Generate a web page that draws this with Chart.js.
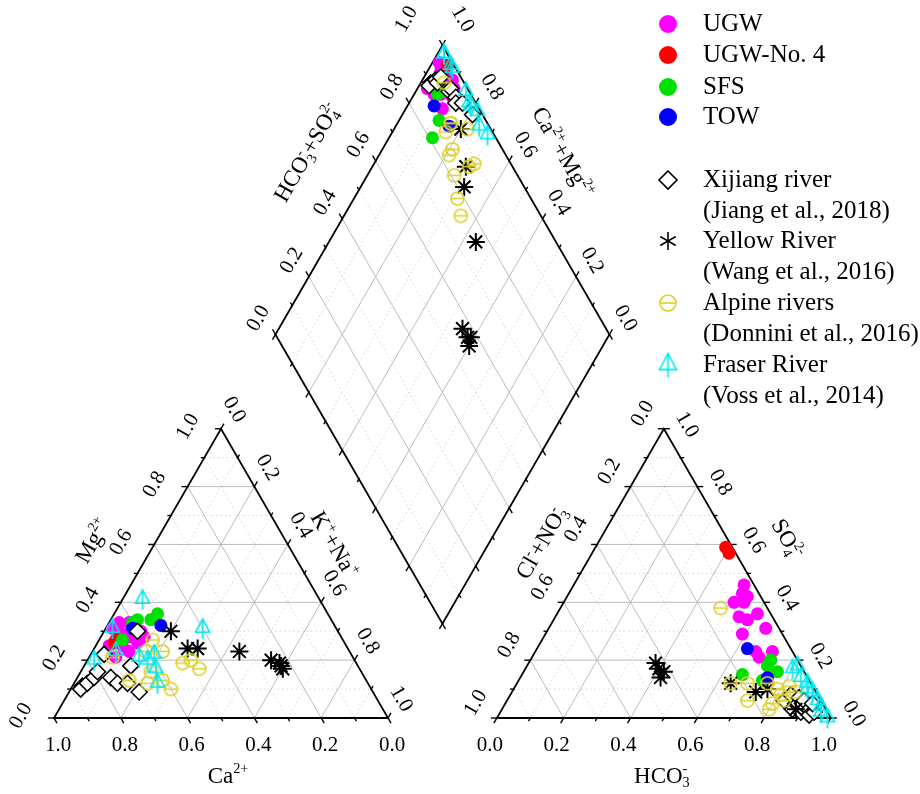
<!DOCTYPE html>
<html>
<head>
<meta charset="utf-8">
<script src="https://cdn.jsdelivr.net/npm/chart.js@4.4.1/dist/chart.umd.min.js"></script>
<style>
html,body{margin:0;padding:0;background:#fff;}
canvas{display:block;}
</style>
</head>
<body>
<canvas id="piper" width="920" height="794"></canvas>
<script>
// Cation fractions per sample: [Ca, Mg, Na+K]
// Anion fractions per sample:  [HCO3, SO4, Cl+NO3]  (same sample order)
const ugwCations = [[0.64,0.33,0.03],[0.61,0.33,0.06],[0.59,0.30,0.11],[0.65,0.29,0.06],[0.67,0.25,0.08],[0.71,0.21,0.08],[0.71,0.25,0.04],[0.62,0.26,0.12],[0.66,0.23,0.11],[0.59,0.28,0.13],[0.67,0.31,0.02],[0.63,0.28,0.09],[0.67,0.27,0.06]];
const ugwAnions  = [[0.59,0.29,0.12],[0.55,0.35,0.10],[0.66,0.23,0.11],[0.68,0.21,0.11],[0.51,0.40,0.09],[0.58,0.34,0.08],[0.52,0.43,0.05],[0.54,0.40,0.06],[0.60,0.36,0.04],[0.71,0.23,0.06],[0.54,0.42,0.04],[0.51,0.46,0.03],[0.65,0.31,0.04]];

const ugw4Cations = [[0.69,0.26,0.05],[0.68,0.27,0.05]];
const ugw4Anions  = [[0.39,0.59,0.02],[0.41,0.57,0.02]];

const sfsCations = [[0.51,0.36,0.13],[0.54,0.34,0.12],[0.60,0.33,0.07],[0.66,0.27,0.07],[0.58,0.34,0.08]];
const sfsAnions  = [[0.66,0.15,0.19],[0.73,0.13,0.14],[0.72,0.18,0.10],[0.76,0.16,0.08],[0.72,0.20,0.08]];

const towCations = [[0.52,0.32,0.16],[0.61,0.31,0.08]];
const towAnions  = [[0.74,0.14,0.12],[0.63,0.24,0.13]];

const xijiangCations = [[0.86,0.11,0.03],[0.87,0.10,0.03],[0.74,0.22,0.04],[0.84,0.12,0.04],[0.81,0.14,0.05],[0.79,0.16,0.05],[0.76,0.14,0.10],[0.60,0.30,0.10],[0.75,0.12,0.13],[0.68,0.18,0.14],[0.72,0.12,0.16],[0.70,0.09,0.21]];
const xijiangAnions  = [[0.87,0.03,0.10],[0.83,0.06,0.11],[0.87,0.05,0.08],[0.90,0.02,0.08],[0.84,0.08,0.08],[0.87,0.07,0.06],[0.89,0.05,0.06],[0.89,0.06,0.05],[0.92,0.03,0.05],[0.93,0.01,0.06],[0.94,0.02,0.04],[0.92,0.05,0.03]];

const yellowCations = [[0.50,0.30,0.20],[0.48,0.24,0.28],[0.45,0.24,0.31],[0.33,0.23,0.44],[0.25,0.20,0.55],[0.23,0.18,0.59],[0.23,0.17,0.60],[0.23,0.19,0.58]];
const yellowAnions  = [[0.88,0.03,0.09],[0.76,0.10,0.14],[0.73,0.09,0.18],[0.64,0.12,0.24],[0.38,0.19,0.43],[0.42,0.16,0.42],[0.42,0.14,0.44],[0.40,0.17,0.43]];

const alpineCations = [[0.72,0.21,0.07],[0.57,0.27,0.16],[0.61,0.23,0.16],[0.71,0.13,0.16],[0.56,0.23,0.21],[0.63,0.16,0.21],[0.66,0.12,0.22],[0.61,0.13,0.26],[0.52,0.19,0.29],[0.49,0.20,0.31],[0.60,0.10,0.30],[0.48,0.17,0.35]];
const alpineAnions  = [[0.85,0.09,0.06],[0.83,0.06,0.11],[0.81,0.08,0.11],[0.48,0.38,0.14],[0.80,0.05,0.15],[0.80,0.03,0.17],[0.82,0.11,0.07],[0.69,0.12,0.19],[0.75,0.12,0.13],[0.72,0.06,0.22],[0.79,0.10,0.11],[0.64,0.12,0.24]];

const fraserCations = [[0.67,0.31,0.02],[0.78,0.20,0.02],[0.53,0.41,0.06],[0.70,0.23,0.07],[0.64,0.21,0.15],[0.62,0.20,0.18],[0.59,0.22,0.19],[0.61,0.17,0.22],[0.63,0.12,0.25],[0.40,0.31,0.29]];
const fraserAnions  = [[0.99,0.00,0.01],[0.93,0.06,0.01],[0.95,0.04,0.01],[0.90,0.09,0.01],[0.87,0.12,0.01],[0.84,0.14,0.02],[0.88,0.10,0.02],[0.81,0.18,0.01],[0.80,0.17,0.03],[0.96,0.02,0.02]];

const tickValues = ['0.0','0.2','0.4','0.6','0.8','1.0'];

// ---- geometry of the Piper layout (triangle side = 1) ----
const H = Math.sqrt(3) / 2;
const GAP = 0.326;
const OFF = 1 + GAP;
const lerp = (a, b, t) => [a[0] + (b[0] - a[0]) * t, a[1] + (b[1] - a[1]) * t];

const TL = { bl: [0, 0], br: [1, 0], ap: [0.5, H] };
const TR = { bl: [OFF, 0], br: [OFF + 1, 0], ap: [OFF + 0.5, H] };
const DM = {
  l: [(1 + GAP) / 2, H * (1 + GAP)],
  t: [1 + GAP / 2, H * (2 + GAP)],
  r: [(3 + GAP) / 2, H * (1 + GAP)],
  b: [1 + GAP / 2, H * GAP]
};

const cationPoint = c => ({ x: c[2] + 0.5 * c[1], y: c[1] * H });
const anionPoint = a => ({ x: OFF + a[0] + 0.5 * a[1], y: a[1] * H });
const diamondPoint = (c, a) => ({ x: (c[2] + 2 + GAP - a[2]) / 2, y: H * (2 + GAP - a[2] - c[2]) });

function piperPoints(cats, ans) {
  return [
    ...cats.map(cationPoint),
    ...ans.map(anionPoint),
    ...cats.map((c, i) => diamondPoint(c, ans[i]))
  ];
}

// ---- custom marker images ----
const ALPINE_COLOR = '#ddd02c';
const FRASER_COLOR = '#00e8f0';
function alpineMarker(r) {
  const s = Math.ceil(r * 2 + 4);
  const cv = document.createElement('canvas');
  cv.width = s; cv.height = s;
  const g = cv.getContext('2d');
  g.strokeStyle = ALPINE_COLOR; g.lineWidth = 1.6;
  g.beginPath(); g.arc(s / 2, s / 2, r, 0, Math.PI * 2); g.stroke();
  g.beginPath(); g.moveTo(s / 2 - r, s / 2); g.lineTo(s / 2 + r, s / 2); g.stroke();
  return cv;
}
function fraserMarker(w) {
  const cw = Math.ceil(w + 4), ch = Math.ceil(w * 1.3 + 4);
  const cv = document.createElement('canvas');
  cv.width = cw; cv.height = ch;
  const g = cv.getContext('2d');
  g.strokeStyle = FRASER_COLOR; g.lineWidth = 1.6;
  const cx = cw / 2, top = 2, base = 2 + w * 0.95;
  g.beginPath();
  g.moveTo(cx, top); g.lineTo(cx - w / 2, base); g.lineTo(cx + w / 2, base); g.closePath();
  g.stroke();
  g.beginPath(); g.moveTo(cx, top); g.lineTo(cx, ch - 1); g.stroke();
  return cv;
}
const alpineImg = alpineMarker(6.5);
const fraserImg = fraserMarker(14);
const alpineLegendImg = alpineMarker(8);
const fraserLegendImg = fraserMarker(17);

// ---- rich text (sub/superscripts) ----
const SERIF = '"Liberation Serif", "Times New Roman", serif';
function segWidth(ctx, seg, size) {
  const small = size * 0.62;
  if (typeof seg[0] === 'object') {
    ctx.font = small + 'px ' + SERIF;
    return Math.max(ctx.measureText(seg[0].sub).width, ctx.measureText(seg[0].sup).width);
  }
  ctx.font = (seg[1] ? small : size) + 'px ' + SERIF;
  return ctx.measureText(seg[0]).width;
}
function drawRich(ctx, segs, cx, cy, rot, size) {
  let w = 0;
  segs.forEach(s => { w += segWidth(ctx, s, size); });
  ctx.save();
  ctx.translate(cx, cy);
  ctx.rotate(rot * Math.PI / 180);
  ctx.textBaseline = 'alphabetic';
  ctx.textAlign = 'left';
  ctx.fillStyle = '#000';
  const base = size * 0.33;
  const small = size * 0.62;
  let x = -w / 2;
  segs.forEach(s => {
    const sw = segWidth(ctx, s, size);
    if (typeof s[0] === 'object') {
      ctx.font = small + 'px ' + SERIF;
      ctx.fillText(s[0].sup, x, base - size * 0.4);
      ctx.fillText(s[0].sub, x, base + size * 0.2);
    } else if (s[1] === 'sup') {
      ctx.font = small + 'px ' + SERIF;
      ctx.fillText(s[0], x, base - size * 0.4);
    } else if (s[1] === 'sub') {
      ctx.font = small + 'px ' + SERIF;
      ctx.fillText(s[0], x, base + size * 0.2);
    } else {
      ctx.font = size + 'px ' + SERIF;
      ctx.fillText(s[0], x, base);
    }
    x += sw;
  });
  ctx.restore();
}

// ---- axes: edge from a (value 0) to b (value 1), tick direction in screen space ----
const edges = [
  { a: TL.br, b: TL.bl, dir: [0.5, 0.866], label: { dx: 4, dy: 27, rot: 0 } },
  { a: TL.bl, b: TL.ap, dir: [-1, 0], label: { dx: -33, dy: -2, rot: -60 } },
  { a: TL.ap, b: TL.br, dir: [0.5, -0.866], label: { dx: 13, dy: -19, rot: 60 } },
  { a: TR.bl, b: TR.br, dir: [-0.5, 0.866], label: { dx: -7, dy: 27, rot: 0 } },
  { a: TR.ap, b: TR.bl, dir: [-1, 0], label: { dx: -21, dy: -15, rot: -60 } },
  { a: TR.br, b: TR.ap, dir: [1, 0], label: { dx: 23, dy: -4, rot: 60 } },
  { a: DM.l, b: DM.t, dir: [-0.5, -0.866], label: { dx: -17, dy: -16, rot: -60, end: [-36, -26] } },
  { a: DM.r, b: DM.t, dir: [0.5, -0.866], label: { dx: 16, dy: -16, rot: 60, end: [20, -26] } },
  { a: DM.l, b: DM.b, dir: [-0.5, 0.866], label: null },
  { a: DM.r, b: DM.b, dir: [0.5, 0.866], label: null }
];

const titles = [
  { segs: [['Ca'], ['2+', 'sup']], at: lerp(TL.bl, TL.br, 0.5), dx: 7, dy: 57, rot: 0 },
  { segs: [['Mg'], ['2+', 'sup']], at: lerp(TL.bl, TL.ap, 0.6), dx: -62, dy: -4, rot: -60 },
  { segs: [['K'], ['+', 'sup'], ['+Na'], ['+', 'sup']], at: lerp(TL.ap, TL.br, 0.4), dx: 47, dy: 0, rot: 60 },
  { segs: [['HCO'], [{ sub: '3', sup: '-' }]], at: lerp(TR.bl, TR.br, 0.5), dx: -2, dy: 57, rot: 0 },
  { segs: [['Cl'], ['-', 'sup'], ['+NO'], [{ sub: '3', sup: '-' }]], at: lerp(TR.bl, TR.ap, 0.6), dx: -56, dy: -2, rot: -60 },
  { segs: [['SO'], [{ sub: '4', sup: '2-' }]], at: lerp(TR.br, TR.ap, 0.6), dx: 57, dy: -6, rot: 60 },
  { segs: [['HCO'], [{ sub: '3', sup: '-' }], ['+SO'], [{ sub: '4', sup: '2-' }]], at: lerp(DM.l, DM.t, 0.63), dx: -74, dy: 0, rot: -60 },
  { segs: [['Ca'], ['2+', 'sup'], ['+Mg'], ['2+', 'sup']], at: lerp(DM.r, DM.t, 0.63), dx: 59, dy: 0, rot: 60 }
];

const piperFrame = {
  id: 'piperFrame',
  beforeDatasetsDraw(chart) {
    const ctx = chart.ctx;
    const sx = chart.scales.x, sy = chart.scales.y;
    const P = p => [sx.getPixelForValue(p[0]), sy.getPixelForValue(p[1])];
    const seg = (p, q) => { ctx.beginPath(); ctx.moveTo(p[0], p[1]); ctx.lineTo(q[0], q[1]); ctx.stroke(); };

    ctx.save();
    // grid lines: solid at 0.2, dotted at 0.1
    for (let k = 1; k <= 9; k++) {
      const v = k / 10;
      const major = k % 2 === 0;
      ctx.strokeStyle = major ? '#bcbcbc' : '#d4d4d4';
      ctx.lineWidth = 1;
      ctx.setLineDash(major ? [] : [1.5, 3]);
      [TL, TR].forEach(T => {
        const vs = [T.bl, T.br, T.ap];
        for (let i = 0; i < 3; i++) {
          const V = vs[i], U = vs[(i + 1) % 3], W = vs[(i + 2) % 3];
          seg(P(lerp(U, V, v)), P(lerp(W, V, v)));
        }
      });
      seg(P(lerp(DM.l, DM.b, v)), P(lerp(DM.t, DM.r, v)));
      seg(P(lerp(DM.t, DM.l, v)), P(lerp(DM.r, DM.b, v)));
    }
    ctx.setLineDash([]);

    // frames
    ctx.strokeStyle = '#000';
    ctx.lineWidth = 1.8;
    ctx.lineJoin = 'miter';
    [[TL.bl, TL.br, TL.ap], [TR.bl, TR.br, TR.ap], [DM.l, DM.t, DM.r, DM.b]].forEach(poly => {
      ctx.beginPath();
      poly.forEach((p, i) => { const q = P(p); i ? ctx.lineTo(q[0], q[1]) : ctx.moveTo(q[0], q[1]); });
      ctx.closePath();
      ctx.stroke();
    });

    // ticks and tick labels
    ctx.lineWidth = 1.4;
    edges.forEach(e => {
      for (let k = 0; k <= 10; k++) {
        const p = P(lerp(e.a, e.b, k / 10));
        const len = k % 2 === 0 ? 6 : 3.5;
        seg([p[0] - e.dir[0], p[1] - e.dir[1]], [p[0] + e.dir[0] * len, p[1] + e.dir[1] * len]);
        if (e.label && k % 2 === 0) {
          const off = (k === 10 && e.label.end) ? e.label.end : [e.label.dx, e.label.dy];
          ctx.save();
          ctx.translate(p[0] + off[0], p[1] + off[1]);
          ctx.rotate(e.label.rot * Math.PI / 180);
          ctx.font = '21px ' + SERIF;
          ctx.fillStyle = '#000';
          ctx.textAlign = 'center';
          ctx.textBaseline = 'middle';
          ctx.fillText(tickValues[k / 2], 0, 0);
          ctx.restore();
        }
      }
    });

    // axis titles
    titles.forEach(t => {
      const p = P(t.at);
      drawRich(ctx, t.segs, p[0] + t.dx, p[1] + t.dy, t.rot, 23);
    });
    ctx.restore();
  },
  afterDraw(chart) {
    const ctx = chart.ctx;
    ctx.save();
    const mx = 668, tx = 703;
    const rows = [
      { y: 24, kind: 'dot', color: '#ff00ff', text: ['UGW'] },
      { y: 55, kind: 'dot', color: '#ff0000', text: ['UGW-No. 4'] },
      { y: 87, kind: 'dot', color: '#00e000', text: ['SFS'] },
      { y: 117, kind: 'dot', color: '#0000ff', text: ['TOW'] },
      { y: 180, kind: 'diamond', text: ['Xijiang river', '(Jiang et al., 2018)'] },
      { y: 241, kind: 'star', text: ['Yellow River', '(Wang et al., 2016)'] },
      { y: 303, kind: 'alpine', text: ['Alpine rivers', '(Donnini et al., 2016)'] },
      { y: 365, kind: 'fraser', text: ['Fraser River', '(Voss et al., 2014)'] }
    ];
    rows.forEach(r => {
      if (r.kind === 'dot') {
        ctx.fillStyle = r.color;
        ctx.beginPath(); ctx.arc(mx, r.y, 9, 0, Math.PI * 2); ctx.fill();
      } else if (r.kind === 'diamond') {
        ctx.strokeStyle = '#000'; ctx.lineWidth = 1.6;
        ctx.beginPath();
        ctx.moveTo(mx, r.y - 9); ctx.lineTo(mx + 9, r.y); ctx.lineTo(mx, r.y + 9); ctx.lineTo(mx - 9, r.y); ctx.closePath();
        ctx.stroke();
      } else if (r.kind === 'star') {
        ctx.strokeStyle = '#000'; ctx.lineWidth = 1.6;
        for (let i = 0; i < 3; i++) {
          const a = Math.PI / 2 + i * Math.PI / 3;
          ctx.beginPath();
          ctx.moveTo(mx + 9 * Math.cos(a), r.y + 9 * Math.sin(a));
          ctx.lineTo(mx - 9 * Math.cos(a), r.y - 9 * Math.sin(a));
          ctx.stroke();
        }
      } else if (r.kind === 'alpine') {
        ctx.drawImage(alpineLegendImg, mx - alpineLegendImg.width / 2, r.y - alpineLegendImg.height / 2);
      } else if (r.kind === 'fraser') {
        ctx.drawImage(fraserLegendImg, mx - fraserLegendImg.width / 2, r.y - fraserLegendImg.height / 2);
      }
      ctx.fillStyle = '#000';
      ctx.font = '25px ' + SERIF;
      ctx.textAlign = 'left';
      ctx.textBaseline = 'middle';
      r.text.forEach((line, i) => ctx.fillText(line, tx, r.y + i * 31));
    });
    ctx.restore();
  }
};

// pixel frame: left triangle base starts at x=54, y=718, side 334 px
const SIDE = 334, X0 = 54, Y0 = 718;

const dotSet = (label, cats, ans, color, order) => ({
  label, data: piperPoints(cats, ans), order,
  pointStyle: 'circle', pointRadius: 6.5,
  backgroundColor: color, borderColor: color, borderWidth: 0
});

new Chart(document.getElementById('piper'), {
  type: 'scatter',
  data: {
    datasets: [
      dotSet('UGW', ugwCations, ugwAnions, '#ff00ff', 8),
      dotSet('UGW-No. 4', ugw4Cations, ugw4Anions, '#ff0000', 7),
      dotSet('SFS', sfsCations, sfsAnions, '#00e000', 6),
      dotSet('TOW', towCations, towAnions, '#0000ff', 5),
      {
        label: 'Xijiang river (Jiang et al., 2018)', data: piperPoints(xijiangCations, xijiangAnions), order: 4,
        pointStyle: 'rectRot', pointRadius: 8, backgroundColor: '#ffffff', borderColor: '#000', borderWidth: 1.6
      },
      {
        label: 'Yellow River (Wang et al., 2016)', data: piperPoints(yellowCations, yellowAnions), order: 3,
        pointStyle: 'star', pointRadius: 9, backgroundColor: '#000', borderColor: '#000', borderWidth: 2
      },
      {
        label: 'Alpine rivers (Donnini et al., 2016)', data: piperPoints(alpineCations, alpineAnions), order: 2,
        pointStyle: alpineImg, pointRadius: 7, borderColor: ALPINE_COLOR, backgroundColor: ALPINE_COLOR
      },
      {
        label: 'Fraser River (Voss et al., 2014)', data: piperPoints(fraserCations, fraserAnions), order: 1,
        pointStyle: fraserImg, pointRadius: 7, borderColor: FRASER_COLOR, backgroundColor: FRASER_COLOR
      }
    ]
  },
  options: {
    responsive: false,
    animation: false,
    events: [],
    layout: { padding: 0, autoPadding: false },
    plugins: { legend: { display: false }, tooltip: { enabled: false } },
    scales: {
      x: { type: 'linear', display: false, min: -X0 / SIDE, max: (920 - X0) / SIDE },
      y: { type: 'linear', display: false, min: -(794 - Y0) / SIDE, max: Y0 / SIDE }
    },
    elements: { point: { hoverRadius: 0 } }
  },
  plugins: [piperFrame]
});
</script>
</body>
</html>
